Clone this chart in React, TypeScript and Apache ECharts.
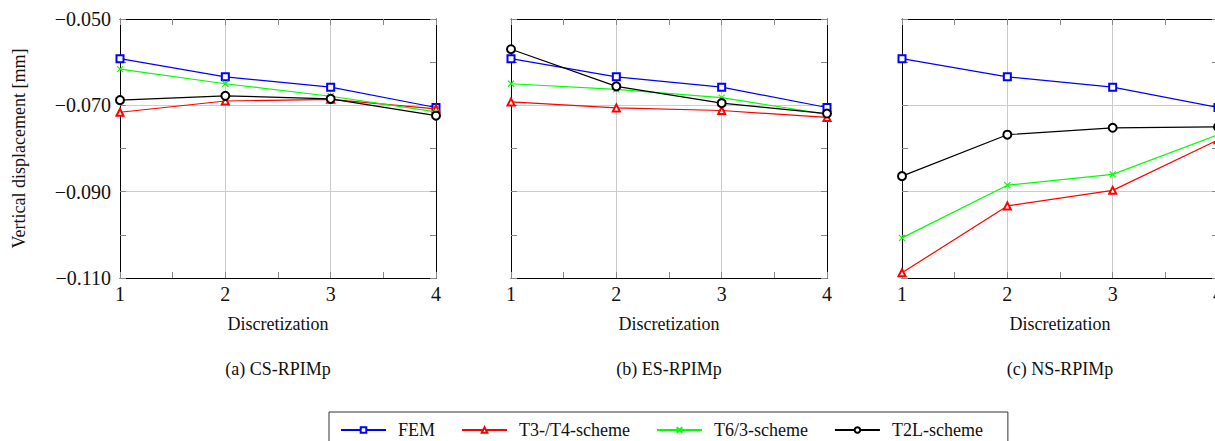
import React, { useEffect, useRef } from "react";
import * as echarts from "echarts";

const discretization = [1, 2, 3, 4];
const seriesNames = ["FEM", "T3-/T4-scheme", "T6/3-scheme", "T2L-scheme"];
const captions = ["(a) CS-RPIMp", "(b) ES-RPIMp", "(c) NS-RPIMp"];

const femValues = [-0.0592, -0.0634, -0.0658, -0.0705];

const csT3 = [-0.0716, -0.069, -0.0686, -0.0708];
const csT6 = [-0.0616, -0.065, -0.0679, -0.0715];
const csT2L = [-0.0688, -0.0678, -0.0685, -0.0724];

const esT3 = [-0.0692, -0.0706, -0.0712, -0.0728];
const esT6 = [-0.065, -0.0663, -0.0682, -0.0721];
const esT2L = [-0.057, -0.0656, -0.0695, -0.0719];

const nsT3 = [-0.1088, -0.0933, -0.0897, -0.078];
const nsT6 = [-0.1007, -0.0885, -0.086, -0.0768];
const nsT2L = [-0.0864, -0.0768, -0.0752, -0.075];

const panels = [
  [femValues, csT3, csT6, csT2L],
  [femValues, esT3, esT6, esT2L],
  [femValues, nsT3, nsT6, nsT2L],
];

const colors = ["#0000ff", "#ff0000", "#00ff00", "#000000"];
const symbols = ["emptyRect", "emptyTriangle", "path://M0,0L10,10M10,0L0,10", "emptyCircle"];
const symbolSizes = [7, 7, 6, 8];

const gridLefts = [120, 511, 902];
const gridWidth = 316;
const gridTop = 19;
const gridHeight = 259;

const SERIF = '"Liberation Serif", "Times New Roman", serif';

export default function App() {
  const ref = useRef<HTMLDivElement>(null);
  useEffect(() => {
    if (!ref.current) return;
    const chart = echarts.init(ref.current, null, { renderer: "svg" });

    const grids: any[] = [];
    const xAxes: any[] = [];
    const yAxes: any[] = [];
    const series: any[] = [];
    const graphics: any[] = [];

    const tickColor = "#888888";
    const gridColor = "#cccccc";

    panels.forEach((panel, p) => {
      grids.push({
        left: gridLefts[p],
        top: gridTop,
        width: gridWidth,
        height: gridHeight,
        outerBoundsMode: "none",
        containLabel: false,
      });
      // bottom x
      xAxes.push({
        type: "value",
        gridIndex: p,
        min: 1,
        max: 4,
        interval: 0.5,
        position: "bottom",
        name: "Discretization",
        nameLocation: "middle",
        nameGap: 37,
        nameTextStyle: { fontFamily: SERIF, fontSize: 18, color: "#111" },
        axisLine: { show: true, lineStyle: { color: "#000", width: 1 } },
        axisTick: { show: true, inside: true, length: 6, lineStyle: { color: tickColor } },
        axisLabel: {
          fontFamily: SERIF,
          fontSize: 20,
          color: "#111",
          margin: 6,
          formatter: (v: number) => (Math.abs(v - Math.round(v)) < 1e-9 ? String(Math.round(v)) : ""),
        },
        splitLine: { show: true, lineStyle: { color: [gridColor, "transparent"], width: 1 } },
      });
      // top x
      xAxes.push({
        type: "value",
        gridIndex: p,
        min: 1,
        max: 4,
        interval: 0.5,
        position: "top",
        axisLine: { show: true, lineStyle: { color: "#000", width: 1 } },
        axisTick: { show: true, inside: true, length: 6, lineStyle: { color: tickColor } },
        axisLabel: { show: false },
        splitLine: { show: false },
      });
      // left y
      yAxes.push({
        type: "value",
        gridIndex: p,
        min: -0.11,
        max: -0.05,
        interval: 0.01,
        position: "left",
        name: p === 0 ? "Vertical displacement [mm]" : "",
        nameLocation: "middle",
        nameGap: 92,
        nameTextStyle: { fontFamily: SERIF, fontSize: 18, color: "#111" },
        axisLine: { show: true, lineStyle: { color: "#000", width: 1 } },
        axisTick: { show: true, inside: true, length: 6, lineStyle: { color: tickColor } },
        axisLabel: {
          show: p === 0,
          fontFamily: SERIF,
          fontSize: 20,
          color: "#111",
          margin: 9,
          formatter: (v: number) => {
            const k = Math.round(Math.abs(v) * 1000);
            return k % 20 === 10 ? "\u2212" + (k / 1000).toFixed(3) : "";
          },
        },
        splitLine: { show: true, lineStyle: { color: [gridColor, "transparent"], width: 1 } },
      });
      // right y
      yAxes.push({
        type: "value",
        gridIndex: p,
        min: -0.11,
        max: -0.05,
        interval: 0.01,
        position: "right",
        axisLine: { show: true, lineStyle: { color: "#000", width: 1 } },
        axisTick: { show: true, inside: true, length: 6, lineStyle: { color: tickColor } },
        axisLabel: { show: false },
        splitLine: { show: false },
      });

      panel.forEach((vals, s) => {
        series.push({
          type: "line",
          name: seriesNames[s],
          xAxisIndex: p * 2,
          yAxisIndex: p * 2,
          data: discretization.map((x, i) => [x, vals[i]]),
          symbol: symbols[s],
          symbolSize: symbolSizes[s],
          showAllSymbol: true,
          color: colors[s],
          lineStyle: { color: colors[s], width: 1.2 },
          itemStyle: s === 2 ? { color: colors[s], borderColor: colors[s], borderWidth: 1.2 } : { color: colors[s], borderWidth: 1.2 },
          z: 10 + s,
        });
      });

      graphics.push({
        type: "text",
        x: gridLefts[p] + gridWidth / 2,
        y: 369,
        style: {
          text: captions[p],
          align: "center",
          verticalAlign: "middle",
          font: `18px ${SERIF}`,
          fill: "#111",
        },
      });
    });

    chart.setOption({
      animation: false,
      backgroundColor: "#ffffff",
      grid: grids,
      xAxis: xAxes,
      yAxis: yAxes,
      series,
      graphic: graphics,
      legend: {
        data: seriesNames,
        left: 329,
        top: 412,
        orient: "horizontal",
        itemWidth: 45,
        itemHeight: 7,
        itemGap: 26,
        padding: [9, 25, 12, 11],
        borderColor: "#333",
        borderWidth: 1,
        borderRadius: 0,
        textStyle: { fontFamily: SERIF, fontSize: 18, color: "#111", padding: [0, 0, 0, 7] },
      },
    });

    return () => chart.dispose();
  }, []);

  return (
    <div
      ref={ref}
      style={{ position: "fixed", left: 0, top: 0, width: 1215, height: 441, background: "#fff" }}
    />
  );
}
